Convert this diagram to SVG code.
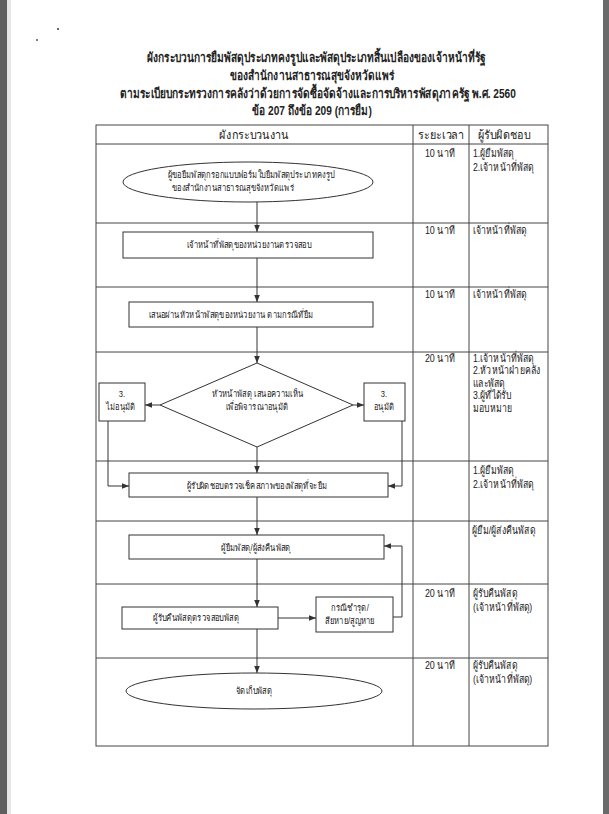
<svg xmlns="http://www.w3.org/2000/svg" width="609" height="814" viewBox="0 0 609 814">
<defs>
<style>
text{font-family:"Liberation Sans","DejaVu Sans","Noto Sans",sans-serif;fill:#222;transform-box:fill-box}
.t{font-size:13px;font-weight:bold;text-anchor:middle;transform-origin:center;transform:scaleX(0.78)}
.h{font-size:12px;text-anchor:middle;transform-origin:center;transform:scaleX(0.9)}
.c{font-size:11px;transform-origin:left;transform:scaleX(0.79)}
.cm{font-size:11px;text-anchor:middle;transform-origin:center;transform:scaleX(0.81)}
.n{font-size:9.5px;text-anchor:middle;transform-origin:center;transform:scaleX(0.8)}
.grid{stroke:#444;stroke-width:1;fill:none}
.shape{stroke:#333;stroke-width:1;fill:#fff}
.edge{stroke:#333;stroke-width:1;fill:none}
</style>
<marker id="ah" viewBox="0 0 10 10" refX="10" refY="5" markerWidth="7" markerHeight="7" orient="auto" markerUnits="userSpaceOnUse"><path d="M0,1 L10,5 L0,9 z" fill="#333"/></marker>
</defs>
<rect width="609" height="814" fill="#fff"/>
<rect x="0" y="0" width="7" height="814" fill="#5e5e5e"/>
<rect x="7" y="0" width="4" height="814" fill="#e6e6e6"/>
<rect x="603" y="0" width="6" height="814" fill="#6a6a6a"/>
<circle cx="58" cy="29" r="1" fill="#333"/>
<circle cx="37" cy="40" r="1" fill="#555"/>

<g id="title">
<text class="t" x="316" y="62">ผังกระบวนการยืมพัสดุประเภทคงรูปและพัสดุประเภทสิ้นเปลืองของเจ้าหน้าที่รัฐ</text>
<text class="t" x="312" y="80">ของสำนักงานสาธารณสุขจังหวัดแพร่</text>
<text class="t" x="318" y="98">ตามระเบียบกระทรวงการคลังว่าด้วยการจัดซื้อจัดจ้างและการบริหารพัสดุภาครัฐ พ.ศ. 2560</text>
<text class="t" x="312" y="115">ข้อ 207 ถึงข้อ 209 (การยืม)</text>
</g>

<g id="table">
<rect class="grid" x="96" y="125" width="452" height="621"/>
<line class="grid" x1="413" y1="125" x2="413" y2="746"/>
<line class="grid" x1="469" y1="125" x2="469" y2="746"/>
<line class="grid" x1="96" y1="144" x2="548" y2="144"/>
<line class="grid" x1="96" y1="223" x2="548" y2="223"/>
<line class="grid" x1="96" y1="287" x2="548" y2="287"/>
<line class="grid" x1="96" y1="352" x2="548" y2="352"/>
<line class="grid" x1="96" y1="461" x2="548" y2="461"/>
<line class="grid" x1="96" y1="521" x2="548" y2="521"/>
<line class="grid" x1="96" y1="584" x2="548" y2="584"/>
<line class="grid" x1="96" y1="658" x2="548" y2="658"/>
<text class="h" x="254" y="139">ผังกระบวนงาน</text>
<text class="h" x="441" y="139">ระยะเวลา</text>
<text class="h" x="504" y="139">ผู้รับผิดชอบ</text>
<text class="cm" x="440" y="157">10 นาที</text>
<text class="c" x="473" y="157">1.ผู้ยืมพัสดุ</text>
<text class="c" x="473" y="171">2.เจ้าหน้าที่พัสดุ</text>
<text class="cm" x="440" y="234">10 นาที</text>
<text class="c" x="473" y="234">เจ้าหน้าที่พัสดุ</text>
<text class="cm" x="440" y="298">10 นาที</text>
<text class="c" x="473" y="298">เจ้าหน้าที่พัสดุ</text>
<text class="cm" x="440" y="362">20 นาที</text>
<text class="c" x="473" y="362">1.เจ้าหน้าที่พัสดุ</text>
<text class="c" x="473" y="374.5">2.หัวหน้าฝ่ายคลัง</text>
<text class="c" x="473" y="387">และพัสดุ</text>
<text class="c" x="473" y="399.5">3.ผู้ที่ได้รับ</text>
<text class="c" x="473" y="412">มอบหมาย</text>
<text class="c" x="473" y="474">1.ผู้ยืมพัสดุ</text>
<text class="c" x="473" y="488">2.เจ้าหน้าที่พัสดุ</text>
<text class="c" x="472" y="534">ผู้ยืม/ผู้ส่งคืนพัสดุ</text>
<text class="cm" x="440" y="597">20 นาที</text>
<text class="c" x="473" y="597">ผู้รับคืนพัสดุ</text>
<text class="c" x="473" y="611">(เจ้าหน้าที่พัสดุ)</text>
<text class="cm" x="440" y="669">20 นาที</text>
<text class="c" x="473" y="669">ผู้รับคืนพัสดุ</text>
<text class="c" x="473" y="683">(เจ้าหน้าที่พัสดุ)</text>
</g>

<g id="connectors">
<line class="edge" x1="257" y1="202" x2="257" y2="232" marker-end="url(#ah)"/>
<line class="edge" x1="257" y1="258" x2="257" y2="302" marker-end="url(#ah)"/>
<line class="edge" x1="257" y1="327" x2="257" y2="363" marker-end="url(#ah)"/>
<line class="edge" x1="160" y1="405" x2="145" y2="405" marker-end="url(#ah)"/>
<line class="edge" x1="353" y1="405" x2="364" y2="405" marker-end="url(#ah)"/>
<polyline class="edge" points="108,421 108,486 129,486" marker-end="url(#ah)"/>
<polyline class="edge" points="402,421 402,486 388,486" marker-end="url(#ah)"/>
<line class="edge" x1="257" y1="447" x2="257" y2="473" marker-end="url(#ah)"/>
<line class="edge" x1="257" y1="497" x2="257" y2="535" marker-end="url(#ah)"/>
<line class="edge" x1="257" y1="559" x2="257" y2="607" marker-end="url(#ah)"/>
<line class="edge" x1="278" y1="618" x2="316" y2="618" marker-end="url(#ah)"/>
<polyline class="edge" points="393,617 402,617 402,546 384,546" marker-end="url(#ah)"/>
<line class="edge" x1="257" y1="629" x2="257" y2="673" marker-end="url(#ah)"/>
</g>

<g id="n1">
<ellipse class="shape" cx="248" cy="182" rx="125" ry="20"/>
<text class="n" x="251" y="178">ผู้ขอยืมพัสดุกรอกแบบฟอร์มใบยืมพัสดุประเภทคงรูป</text>
<text class="n" x="233" y="191">ของสำนักงานสาธารณสุขจังหวัดแพร่</text>
</g>
<g id="n2">
<rect class="shape" x="123" y="232" width="250" height="26"/>
<text class="n" x="249" y="248">เจ้าหน้าที่พัสดุของหน่วยงานตรวจสอบ</text>
</g>
<g id="n3">
<rect class="shape" x="129" y="302" width="244" height="25"/>
<text class="n" x="231" y="318">เสนอผ่านหัวหน้าพัสดุของหน่วยงาน ตามกรณีที่ยืม</text>
</g>
<g id="n4">
<polygon class="shape" points="257,363 353,405 257,447 160,405"/>
<text class="n" x="258" y="397">หัวหน้าพัสดุ เสนอความเห็น</text>
<text class="n" x="257" y="410">เพื่อพิจารณาอนุมัติ</text>
</g>
<g id="n5">
<rect class="shape" x="99" y="383" width="46" height="38"/>
<text class="n" x="122" y="397">3.</text>
<text class="n" x="121" y="410">ไม่อนุมัติ</text>
</g>
<g id="n6">
<rect class="shape" x="364" y="383" width="41" height="38"/>
<text class="n" x="384" y="397">3.</text>
<text class="n" x="384" y="410">อนุมัติ</text>
</g>
<g id="n7">
<rect class="shape" x="129" y="473" width="259" height="24"/>
<text class="n" x="257" y="489">ผู้รับผิดชอบตรวจเช็คสภาพของพัสดุที่จะยืม</text>
</g>
<g id="n8">
<rect class="shape" x="129" y="535" width="255" height="24"/>
<text class="n" x="256" y="551">ผู้ยืมพัสดุ/ผู้ส่งคืนพัสดุ</text>
</g>
<g id="n9">
<rect class="shape" x="122" y="607" width="156" height="22"/>
<text class="n" x="196" y="621">ผู้รับคืนพัสดุตรวจสอบพัสดุ</text>
</g>
<g id="n10">
<rect class="shape" x="316" y="597" width="77" height="35"/>
<text class="n" x="350" y="611">กรณีชำรุด/</text>
<text class="n" x="350" y="624">สียหาย/สูญหาย</text>
</g>
<g id="n11">
<ellipse class="shape" cx="254" cy="691" rx="128" ry="18"/>
<text class="n" x="254" y="694">จัดเก็บพัสดุ</text>
</g>
</svg>
